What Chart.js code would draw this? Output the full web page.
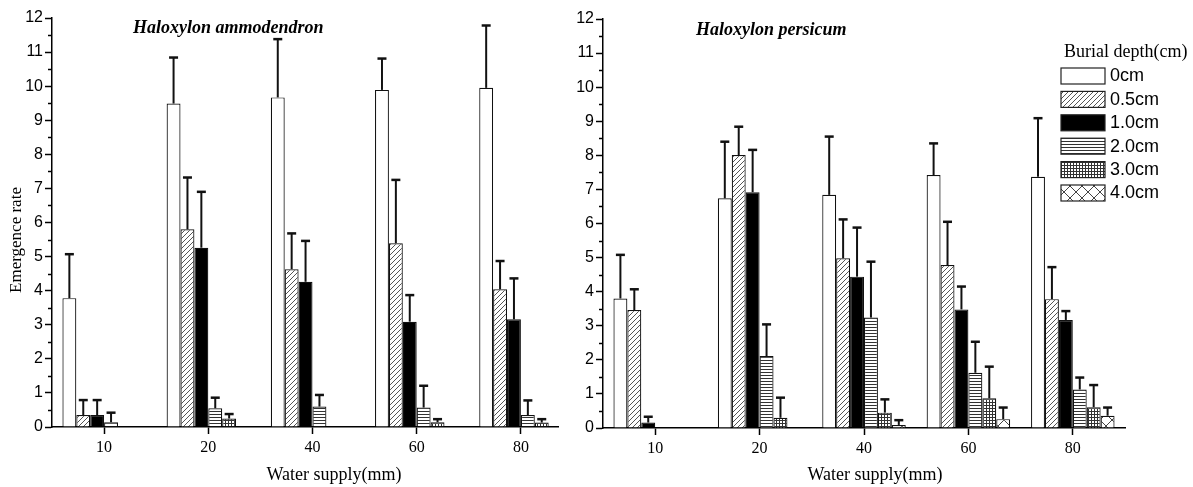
<!DOCTYPE html>
<html>
<head>
<meta charset="utf-8">
<script src="https://cdn.jsdelivr.net/npm/chart.js@4/dist/chart.umd.min.js"></script>
<style>
  body { margin: 0; background: #fff; }
  #wrap { position: relative; width: 1193px; height: 487px; }
  canvas { position: absolute; top: 0; }
</style>
</head>
<body>
<div id="wrap">
  <canvas id="left" width="580" height="487" style="left:0"></canvas>
  <canvas id="right" width="633" height="487" style="left:560px"></canvas>
</div>
<script>
// categories
const waterSupply = ['10', '20', '40', '60', '80'];
const burialDepth = ['0cm', '0.5cm', '1.0cm', '2.0cm', '3.0cm', '4.0cm'];

// Haloxylon ammodendron - emergence rate (mean) per burial depth
const amm0 = [3.78, 9.49, 9.67, 9.89, 9.95];
const amm05 = [0.35, 5.80, 4.63, 5.39, 4.04];
const amm10 = [0.35, 5.26, 4.26, 3.09, 3.16];
const amm20 = [0.14, 0.55, 0.60, 0.57, 0.35];
const amm30 = [0, 0.25, 0, 0.14, 0.13];
const amm40 = [0, 0, 0, 0, 0];
// standard deviations (upper error bars)
const amm0Sd = [1.29, 1.35, 1.71, 0.92, 1.83];
const amm05Sd = [0.44, 1.52, 1.05, 1.86, 0.83];
const amm10Sd = [0.44, 1.64, 1.20, 0.78, 1.20];
const amm20Sd = [0.28, 0.31, 0.34, 0.64, 0.43];
const amm30Sd = [0, 0.13, 0, 0.09, 0.10];
const amm40Sd = [0, 0, 0, 0, 0];

// Haloxylon persicum
const per0 = [3.80, 6.74, 6.84, 7.42, 7.37];
const per05 = [3.46, 8.01, 4.98, 4.78, 3.78];
const per10 = [0.16, 6.92, 4.44, 3.48, 3.17];
const per20 = [0, 2.11, 3.24, 1.62, 1.13];
const per30 = [0, 0.30, 0.45, 0.87, 0.61];
const per40 = [0, 0, 0.09, 0.26, 0.36];
const per0Sd = [1.28, 1.66, 1.71, 0.93, 1.72];
const per05Sd = [0.61, 0.83, 1.14, 1.27, 0.94];
const per10Sd = [0.17, 1.24, 1.44, 0.67, 0.26];
const per20Sd = [0, 0.93, 1.64, 0.91, 0.35];
const per30Sd = [0, 0.59, 0.39, 0.93, 0.65];
const per40Sd = [0, 0, 0.14, 0.34, 0.24];

// fill patterns for the bars
function makePattern(size, color, draw) {
  const c = document.createElement('canvas');
  c.width = size; c.height = size;
  const g = c.getContext('2d');
  g.fillStyle = '#fff';
  g.fillRect(0, 0, size, size);
  g.strokeStyle = color;
  g.lineWidth = 1;
  g.beginPath();
  draw(g, size);
  g.stroke();
  return g.createPattern(c, 'repeat');
}

function fills() {
  const hatch = makePattern(5, '#555', (g, s) => {
    g.moveTo(0, s); g.lineTo(s, 0);
    g.moveTo(-1, 1); g.lineTo(1, -1);
    g.moveTo(s - 1, s + 1); g.lineTo(s + 1, s - 1);
  });
  const hlines = makePattern(3, '#333', (g, s) => {
    g.moveTo(0, 0.5); g.lineTo(s, 0.5);
  });
  const grid = makePattern(3, '#333', (g, s) => {
    g.moveTo(0, 0.5); g.lineTo(s, 0.5);
    g.moveTo(0.5, 0); g.lineTo(0.5, s);
  });
  const cross = makePattern(12, '#444', (g, s) => {
    g.moveTo(0, 0); g.lineTo(s, s);
    g.moveTo(0, s); g.lineTo(s, 0);
  });
  return ['#fff', hatch, '#000', hlines, grid, cross];
}

function buildDatasets(means, sds) {
  const bg = fills();
  return means.map((vals, i) => ({
    label: burialDepth[i],
    data: vals.map((v, j) => ({ x: j + 1, y: v })),
    sd: sds[i],
    backgroundColor: bg[i],
    borderColor: '#111',
    borderWidth: 1.2,
    categoryPercentage: 0.8,
    barPercentage: 1.0
  }));
}

// upper error bars
const errorBars = {
  id: 'errorBars',
  afterDatasetsDraw(chart) {
    const ctx = chart.ctx;
    const y = chart.scales.y;
    ctx.save();
    ctx.strokeStyle = '#111';
    chart.data.datasets.forEach((ds, i) => {
      const meta = chart.getDatasetMeta(i);
      meta.data.forEach((bar, j) => {
        const sd = ds.sd[j];
        if (!sd) return;
        const top = bar.y;
        const end = y.getPixelForValue(ds.data[j].y + sd);
        ctx.lineWidth = 2;
        ctx.beginPath();
        ctx.moveTo(bar.x, top);
        ctx.lineTo(bar.x, end);
        ctx.stroke();
        ctx.lineWidth = 2.5;
        ctx.beginPath();
        ctx.moveTo(bar.x - 4.5, end);
        ctx.lineTo(bar.x + 4.5, end);
        ctx.stroke();
      });
    });
    ctx.restore();
  }
};

// minor ticks at the half units on the y axis
const minorTicks = {
  id: 'minorTicks',
  afterDraw(chart) {
    const ctx = chart.ctx;
    const y = chart.scales.y;
    const left = chart.chartArea.left;
    ctx.save();
    ctx.strokeStyle = '#000';
    ctx.lineWidth = 1.5;
    for (let v = 0.5; v < y.max; v += 1) {
      const py = Math.round(y.getPixelForValue(v)) + 0.5;
      ctx.beginPath();
      ctx.moveTo(left - 4, py);
      ctx.lineTo(left, py);
      ctx.stroke();
    }
    ctx.restore();
  }
};

// panel title and axis titles
const panelText = {
  id: 'panelText',
  afterDraw(chart, args, o) {
    const ctx = chart.ctx;
    ctx.save();
    ctx.fillStyle = '#000';
    ctx.textBaseline = 'middle';
    ctx.textAlign = 'left';
    ctx.font = 'italic bold 18px "Liberation Serif", "Times New Roman", serif';
    ctx.fillText(o.title, o.titleX, o.titleY);
    ctx.textAlign = 'center';
    ctx.font = '18px "Liberation Serif", "Times New Roman", serif';
    ctx.fillText(o.xTitle, o.xTitleX, o.xTitleY);
    if (o.yTitle) {
      ctx.translate(o.yTitleX, o.yTitleY);
      ctx.rotate(-Math.PI / 2);
      ctx.font = '17px "Liberation Serif", "Times New Roman", serif';
      ctx.fillText(o.yTitle, 0, 0);
    }
    ctx.restore();
  }
};

// legend with title, drawn inside the right panel
const depthLegend = {
  id: 'depthLegend',
  afterDraw(chart, args, o) {
    if (!o.show) return;
    const ctx = chart.ctx;
    ctx.save();
    ctx.fillStyle = '#000';
    ctx.textBaseline = 'middle';
    ctx.textAlign = 'left';
    ctx.font = '18px "Liberation Serif", "Times New Roman", serif';
    ctx.fillText(o.title, o.x + 3, o.y - 16);
    ctx.font = '18px "Liberation Sans", Arial, sans-serif';
    chart.data.datasets.forEach((ds, i) => {
      const top = o.y + i * 23.4;
      ctx.fillStyle = ds.backgroundColor;
      ctx.fillRect(o.x, top, 44, 16);
      ctx.strokeStyle = '#222';
      ctx.lineWidth = 1.2;
      ctx.strokeRect(o.x, top, 44, 16);
      ctx.fillStyle = '#000';
      ctx.fillText(ds.label, o.x + 49, top + 8.5);
    });
    ctx.restore();
  }
};

function makeChart(id, datasets, cfg) {
  const ctx = document.getElementById(id).getContext('2d');
  return new Chart(ctx, {
    type: 'bar',
    data: { datasets: datasets },
    options: {
      responsive: false,
      animation: false,
      devicePixelRatio: 1,
      layout: { padding: { top: cfg.top, right: cfg.right, bottom: 0, left: 0 } },
      plugins: {
        legend: { display: false },
        tooltip: { enabled: false },
        panelText: cfg.text,
        depthLegend: cfg.legend
      },
      scales: {
        x: {
          type: 'linear',
          min: 0.5,
          max: cfg.xMax,
          offset: false,
          afterBuildTicks: (scale) => {
            scale.ticks = waterSupply.map((w, i) => ({ value: i + 1 }));
          },
          afterFit: (scale) => { scale.height = 487 - cfg.bottom; },
          grid: { offset: false, drawOnChartArea: false, drawTicks: true, tickLength: 7, tickWidth: 1.5, tickColor: '#000' },
          border: { color: '#000', width: 1.5 },
          ticks: {
            padding: 4,
            color: '#000',
            font: { family: '"Liberation Serif", "Times New Roman", serif', size: 16 },
            callback: (v) => waterSupply[v - 1]
          }
        },
        y: {
          min: 0,
          max: 12,
          afterFit: (scale) => { scale.width = cfg.yWidth; },
          grid: { drawOnChartArea: false, drawTicks: true, tickLength: 7, tickWidth: 1.5, tickColor: '#000' },
          border: { color: '#000', width: 1.5 },
          ticks: {
            stepSize: 1,
            padding: 2,
            color: '#000',
            font: { family: '"Liberation Sans", Arial, sans-serif', size: 16 }
          }
        }
      }
    },
    plugins: [errorBars, minorTicks, panelText, depthLegend]
  });
}

makeChart('left',
  buildDatasets([amm0, amm05, amm10, amm20, amm30, amm40],
                [amm0Sd, amm05Sd, amm10Sd, amm20Sd, amm30Sd, amm40Sd]),
  {
    top: 18, bottom: 427, right: 22, yWidth: 52, xMax: 5.356,
    text: {
      title: 'Haloxylon ammodendron', titleX: 133, titleY: 28,
      xTitle: 'Water supply(mm)', xTitleX: 334, xTitleY: 475,
      yTitle: 'Emergence rate', yTitleX: 16.5, yTitleY: 240
    },
    legend: { show: false }
  });

makeChart('right',
  buildDatasets([per0, per05, per10, per20, per30, per40],
                [per0Sd, per05Sd, per10Sd, per20Sd, per30Sd, per40Sd]),
  {
    top: 19, bottom: 428, right: 68, yWidth: 43, xMax: 5.5,
    text: {
      title: 'Haloxylon persicum', titleX: 136, titleY: 30,
      xTitle: 'Water supply(mm)', xTitleX: 315, xTitleY: 475
    },
    legend: { show: true, title: 'Burial depth(cm)', x: 501, y: 68 }
  });
</script>
</body>
</html>
